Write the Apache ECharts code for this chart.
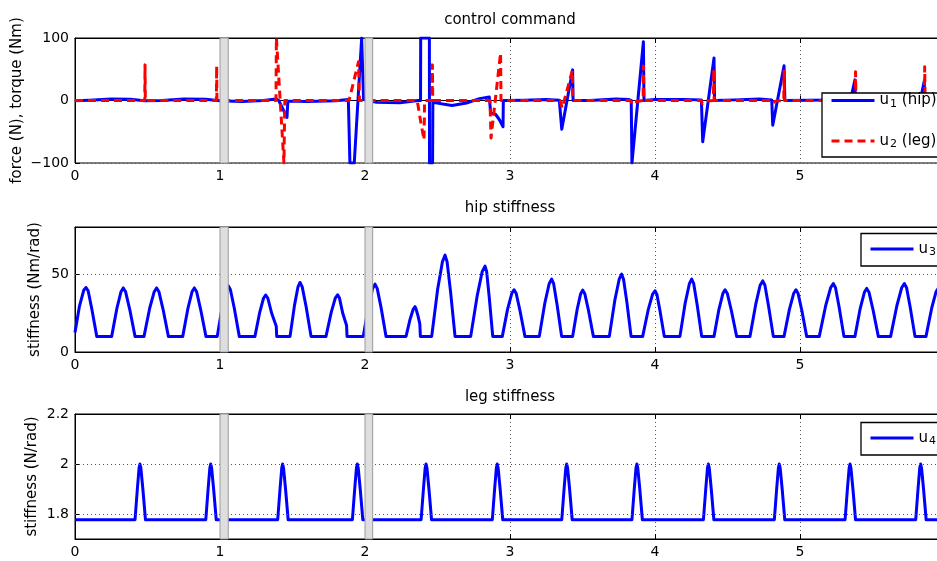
<!DOCTYPE html>
<html>
<head>
<meta charset="utf-8">
<script src="https://cdn.jsdelivr.net/npm/echarts@6/dist/echarts.min.js"></script>
<style>
  html, body { margin: 0; padding: 0; background: #fff; }
  #chart { width: 937px; height: 561px; }
</style>
</head>
<body>
<div id="chart"></div>
<script>
// ---- time axis ----
const timeMin = 0;
const timeMax = 6;
const timeStep = 1;

// shaded intervals (start / end, seconds)
const bandStart = [1.0, 2.0];
const bandEnd = [1.057, 2.053];

// ---- u1: hip torque command [t, Nm], saturates at +/-100 ----
const u1Hip = [
  [0, -0.5], [0.10, 0.5], [0.25, 2.5], [0.38, 2.0], [0.48, -0.5], [0.60, 0.0], [0.75, 2.5], [0.90, 2.0],
  [1.00, -0.5], [1.15, -1.5], [1.30, 0.0], [1.385, 2.5], [1.405, 0], [1.43, -12], [1.462, -27], [1.466, -27],
  [1.468, -1], [1.60, -1.5], [1.80, -0.5], [1.885, 1.5], [1.893, 1.5], [1.896, -100], [1.926, -100],
  [1.977, 100], [1.986, 100], [1.990, 1.5], [2.00, 1.0], [2.08, -3.0], [2.24, -3.5], [2.366, 0], [2.383, 0],
  [2.384, 100], [2.444, 100], [2.445, -100], [2.466, -100], [2.468, -3], [2.60, -8], [2.70, -4], [2.79, 3],
  [2.857, 5.5], [2.865, 5], [2.867, -20], [2.90, -22], [2.925, -30], [2.952, -42], [2.954, 0], [3.10, 0.5],
  [3.25, 1.5], [3.340, 0.5], [3.357, -46], [3.432, 49], [3.435, 0], [3.55, 0], [3.73, 2.5], [3.82, 1.5],
  [3.836, 0], [3.841, -100], [3.851, -100], [3.920, 94], [3.924, 0], [4.00, 1.5], [4.20, 1.5], [4.320, 1],
  [4.329, -66], [4.407, 68], [4.411, 0], [4.55, 1.0], [4.72, 2.5], [4.805, 1], [4.812, -39.5], [4.890, 55.5],
  [4.896, 0], [5.05, 0.5], [5.25, 1], [5.30, 0], [5.305, -45], [5.379, 33], [5.382, 0], [5.55, 1], [5.70, 1.5],
  [5.79, 0], [5.795, -40], [5.857, 31], [5.860, 0], [6.0, 0.5]
];

// ---- u2: leg force command [t, N], saturates at +/-100 ----
const u2Leg = [
  [0, 0], [0.481, 0], [0.483, 57], [0.485, 0], [0.975, 0], [0.977, 55], [0.979, 0], [1.386, 0], [1.389, 100],
  [1.395, 100], [1.441, -100], [1.445, -100], [1.447, 0], [1.890, 0], [1.955, 62], [1.962, 0], [2.360, 0],
  [2.385, -35], [2.392, -38], [2.407, -63], [2.411, 0], [2.463, 0], [2.465, 57], [2.467, 0], [2.862, 0],
  [2.869, -60], [2.874, -60], [2.935, 76], [2.938, 0], [3.345, 0], [3.360, -12], [3.430, 48], [3.433, 0],
  [3.832, 0], [3.842, -6], [3.860, -2], [3.918, 0], [3.920, 55], [3.923, 0], [4.318, 0], [4.327, -5],
  [4.345, -1], [4.403, 0], [4.405, 50], [4.408, 0], [4.805, 0], [4.813, -4], [4.830, -1], [4.888, 0],
  [4.890, 47], [4.893, 0], [5.300, 0], [5.307, -4], [5.330, -1], [5.381, 0], [5.383, 46], [5.386, 0],
  [5.790, 0], [5.797, -4], [5.820, -1], [5.858, 0], [5.860, 54], [5.863, 0], [6.0, 0]
];

// ---- u3: hip stiffness [t, Nm/rad] ----
const u3HipStiff = [
  [0, 12.5], [0.03, 29], [0.06, 39.5], [0.076, 41.3], [0.091, 39], [0.117, 27], [0.15, 10],
  [0.253, 10], [0.289, 28], [0.317, 38.5], [0.333, 41], [0.349, 38.5], [0.378, 27], [0.414, 10],
  [0.476, 10], [0.515, 28], [0.546, 38.5], [0.563, 41], [0.579, 38.5], [0.608, 27], [0.644, 10],
  [0.743, 10], [0.779, 28], [0.807, 38.5], [0.823, 41], [0.839, 38.5], [0.867, 27], [0.903, 10],
  [0.981, 10], [1.015, 28.8], [1.042, 39.8], [1.057, 42.4], [1.072, 39.8], [1.099, 27.8], [1.133, 10],
  [1.241, 10], [1.274, 25.4], [1.300, 34.4], [1.315, 36.5], [1.330, 34.4], [1.357, 24.6], [1.388, 16.5], [1.391, 10],
  [1.483, 10], [1.514, 30], [1.538, 41.7], [1.552, 44.5], [1.567, 41.7], [1.594, 29], [1.628, 10],
  [1.731, 10], [1.767, 25.4], [1.795, 34.5], [1.811, 36.6], [1.824, 34.5], [1.847, 24.6], [1.873, 17], [1.876, 10],
  [1.988, 10], [2.024, 29.4], [2.053, 40.7], [2.069, 43.4], [2.084, 40.7], [2.111, 28.4], [2.145, 10],
  [2.283, 10], [2.311, 21], [2.333, 27.5], [2.345, 29], [2.352, 27.5], [2.366, 23], [2.378, 18], [2.382, 10],
  [2.460, 10], [2.501, 40.2], [2.534, 57.8], [2.552, 62], [2.566, 57.8], [2.590, 38.6], [2.621, 10],
  [2.729, 10], [2.774, 36.1], [2.808, 51.4], [2.828, 55], [2.839, 51.4], [2.857, 34.8], [2.881, 10],
  [2.947, 10], [2.983, 27.3], [3.012, 37.4], [3.028, 39.8], [3.043, 37.4], [3.069, 26.4], [3.103, 10],
  [3.202, 10], [3.240, 31.2], [3.270, 43.7], [3.287, 46.6], [3.301, 43.7], [3.325, 30.1], [3.356, 10],
  [3.432, 10], [3.463, 27.2], [3.487, 37.2], [3.501, 39.6], [3.516, 37.2], [3.542, 26.3], [3.575, 10],
  [3.685, 10], [3.723, 33.1], [3.753, 46.6], [3.770, 49.8], [3.783, 46.6], [3.806, 31.9], [3.835, 10],
  [3.915, 10], [3.953, 26.9], [3.983, 36.9], [4.000, 39.2], [4.013, 36.9], [4.035, 26.1], [4.064, 10],
  [4.172, 10], [4.208, 31.2], [4.237, 43.7], [4.253, 46.6], [4.267, 43.7], [4.291, 30.1], [4.322, 10],
  [4.407, 10], [4.441, 27.3], [4.468, 37.4], [4.483, 39.8], [4.499, 37.4], [4.527, 26.4], [4.563, 10],
  [4.655, 10], [4.695, 30.6], [4.725, 42.7], [4.743, 45.5], [4.758, 42.7], [4.783, 29.5], [4.816, 10],
  [4.890, 10], [4.927, 27.3], [4.956, 37.4], [4.972, 39.8], [4.987, 37.4], [5.013, 26.4], [5.046, 10],
  [5.133, 10], [5.177, 29.6], [5.211, 41.1], [5.230, 43.8], [5.245, 41.1], [5.270, 28.6], [5.303, 10],
  [5.379, 10], [5.415, 27.8], [5.444, 38.2], [5.460, 40.7], [5.476, 38.2], [5.504, 26.9], [5.540, 10],
  [5.625, 10], [5.668, 29.6], [5.701, 41.1], [5.720, 43.8], [5.735, 41.1], [5.760, 28.6], [5.793, 10],
  [5.869, 10], [5.908, 28], [5.938, 38.5], [5.955, 41], [5.970, 38.5], [5.995, 27], [6.030, 10]
];

// ---- u4: leg stiffness [t, N/rad] ----
const u4LegStiff = [
  [0, 1.777],
  [0.414, 1.777], [0.430, 1.9], [0.442, 1.985], [0.448, 2], [0.454, 1.985], [0.468, 1.9], [0.486, 1.777],
  [0.902, 1.777], [0.918, 1.9], [0.930, 1.985], [0.936, 2], [0.942, 1.985], [0.956, 1.9], [0.974, 1.777],
  [1.398, 1.777], [1.414, 1.9], [1.426, 1.985], [1.432, 2], [1.438, 1.985], [1.452, 1.9], [1.470, 1.777],
  [1.913, 1.777], [1.929, 1.9], [1.941, 1.985], [1.947, 2], [1.953, 1.985], [1.967, 1.9], [1.985, 1.777],
  [2.387, 1.777], [2.403, 1.9], [2.415, 1.985], [2.421, 2], [2.427, 1.985], [2.441, 1.9], [2.459, 1.777],
  [2.878, 1.777], [2.894, 1.9], [2.906, 1.985], [2.912, 2], [2.918, 1.985], [2.932, 1.9], [2.950, 1.777],
  [3.357, 1.777], [3.373, 1.9], [3.385, 1.985], [3.391, 2], [3.397, 1.985], [3.411, 1.9], [3.429, 1.777],
  [3.841, 1.777], [3.857, 1.9], [3.869, 1.985], [3.875, 2], [3.881, 1.985], [3.895, 1.9], [3.913, 1.777],
  [4.334, 1.777], [4.350, 1.9], [4.362, 1.985], [4.368, 2], [4.374, 1.985], [4.388, 1.9], [4.406, 1.777],
  [4.823, 1.777], [4.839, 1.9], [4.851, 1.985], [4.857, 2], [4.863, 1.985], [4.877, 1.9], [4.895, 1.777],
  [5.311, 1.777], [5.327, 1.9], [5.339, 1.985], [5.345, 2], [5.351, 1.985], [5.365, 1.9], [5.383, 1.777],
  [5.798, 1.777], [5.814, 1.9], [5.826, 1.985], [5.832, 2], [5.838, 1.985], [5.852, 1.9], [5.870, 1.777],
  [6, 1.777]
];

// ---- axis ranges / ticks ----
const cmdRange = [-100, 100];
const cmdStep = 100;
const hipRange = [0, 80];
const hipTicks = [0, 50];
const legRange = [1.7, 2.2];
const legTicks = [1.8, 2, 2.2];
const legGridLines = [1.8, 2];

const FONT = 'DejaVu Sans';
const BLUE = '#0000ff';
const RED = '#ff0000';
const GRIDLINE = { color: '#555', type: [1, 3], width: 1 };

// the time axis runs to 6 s, slightly past the right edge of the page
const grids = [
  { left: 75, width: 870, top: 38, height: 125 },
  { left: 75, width: 870, top: 227, height: 125 },
  { left: 75, width: 870, top: 414, height: 125 }
];

function bottomAxis(i) {
  return {
    type: 'value', gridIndex: i, min: timeMin, max: timeMax, interval: timeStep,
    axisLine: { show: true, lineStyle: { color: '#000', width: 1 } },
    axisTick: { show: true, inside: true, length: 5, lineStyle: { color: '#000' } },
    axisLabel: { color: '#000', fontSize: 14, fontFamily: FONT, margin: 6, hideOverlap: false },
    splitLine: { show: true, lineStyle: GRIDLINE }
  };
}
function topAxis(i) {
  return {
    type: 'value', gridIndex: i, position: 'top', min: timeMin, max: timeMax, interval: timeStep,
    axisLine: { show: true, lineStyle: { color: '#000', width: 1 } },
    axisTick: { show: true, inside: true, length: 5, lineStyle: { color: '#000' } },
    axisLabel: { show: false },
    splitLine: { show: false }
  };
}
const yCommon = {
  type: 'value',
  nameLocation: 'middle',
  nameMoveOverlap: false,
  nameTextStyle: { color: '#000', fontSize: 15, fontFamily: FONT },
  axisLine: { show: true, lineStyle: { color: '#000', width: 1 } },
  axisTick: { show: true, inside: true, length: 5, lineStyle: { color: '#000' } },
  axisLabel: { color: '#000', fontSize: 14, fontFamily: FONT, margin: 6 }
};

function bandSeries(i) {
  return {
    type: 'custom', xAxisIndex: i, yAxisIndex: i, z: 5, silent: true,
    data: bandStart.map((s, k) => [s, bandEnd[k]]),
    encode: { x: [0, 1], y: 0 },
    renderItem(params, api) {
      const cs = params.coordSys;
      const x0 = api.coord([api.value(0), api.value(0)])[0];
      const x1 = api.coord([api.value(1), api.value(0)])[0];
      return {
        type: 'rect',
        shape: { x: x0, y: cs.y, width: x1 - x0, height: cs.height },
        style: { fill: '#dedede', stroke: '#9a9a9a', lineWidth: 1 }
      };
    }
  };
}

function lineSeries(name, data, i, color, type) {
  return {
    name, type: 'line', xAxisIndex: i, yAxisIndex: i, data,
    showSymbol: false, symbol: 'none', clip: true, z: 2,
    color,
    lineStyle: { color, width: 3, type: type || 'solid', join: 'round', cap: 'butt' },
    emphasis: { disabled: true }
  };
}

const legendRich = {
  m: { fontSize: 15, fontFamily: FONT, color: '#000', lineHeight: 18, verticalAlign: 'middle' },
  s: { fontSize: 11, fontFamily: FONT, color: '#000', lineHeight: 10, verticalAlign: 'bottom', padding: [0, 0, 0, 1] }
};
function legendLabel(name) {
  const m = name.match(/^u(\d)(.*)$/);
  return '{m|u}{s|' + m[1] + '}' + (m[2] ? '{m|' + m[2] + '}' : '');
}
function legendBox(names, left, top, padding, gap) {
  return {
    orient: 'vertical', left, top, data: names, padding, itemGap: gap,
    itemWidth: 43, itemHeight: 14, selectedMode: false,
    backgroundColor: '#fff', borderColor: '#000', borderWidth: 1.3, borderRadius: 0,
    itemStyle: { opacity: 0 },
    lineStyle: { width: 3, opacity: 1 },
    formatter: legendLabel,
    textStyle: { color: '#000', fontSize: 15, fontFamily: FONT, rich: legendRich }
  };
}

function title(text, y) {
  return {
    type: 'text', x: 510, y,
    style: { text, fill: '#000', font: '15px "' + FONT + '"', align: 'center', verticalAlign: 'middle',
             textAlign: 'center', textVerticalAlign: 'middle' }
  };
}

const chart = echarts.init(document.getElementById('chart'), null, { renderer: 'canvas' });
chart.setOption({
  animation: false,
  backgroundColor: '#fff',
  textStyle: { fontFamily: FONT },
  graphic: [
    title('control command', 20),
    title('hip stiffness', 208),
    title('leg stiffness', 397)
  ],
  grid: grids.map(g => Object.assign({ show: true, borderColor: '#000', borderWidth: 1,
                                       backgroundColor: 'transparent', containLabel: false,
                                       outerBoundsMode: 'none' }, g)),
  xAxis: [0, 1, 2].map(bottomAxis).concat([0, 1, 2].map(topAxis)),
  yAxis: [
    Object.assign({}, yCommon, {
      gridIndex: 0, min: cmdRange[0], max: cmdRange[1], interval: cmdStep,
      name: 'force (N), torque (Nm)', nameGap: 50,
      axisLabel: Object.assign({}, yCommon.axisLabel, {
        formatter: v => (v < 0 ? '\u2212' + Math.abs(v) : String(v))
      }),
      splitLine: { show: true, lineStyle: GRIDLINE }
    }),
    Object.assign({}, yCommon, {
      gridIndex: 1, min: hipRange[0], max: hipRange[1], interval: 10,
      name: 'stiffness (Nm/rad)', nameGap: 32,
      axisTick: Object.assign({}, yCommon.axisTick, { customValues: hipTicks }),
      axisLabel: Object.assign({}, yCommon.axisLabel, { customValues: hipTicks }),
      splitLine: { show: false }
    }),
    Object.assign({}, yCommon, {
      gridIndex: 2, min: legRange[0], max: legRange[1], interval: 0.1,
      name: 'stiffness (N/rad)', nameGap: 35,
      axisTick: Object.assign({}, yCommon.axisTick, { customValues: legTicks }),
      axisLabel: Object.assign({}, yCommon.axisLabel, { customValues: legTicks }),
      splitLine: { show: false }
    })
  ],
  legend: [
    legendBox(['u1 (hip)', 'u2 (leg)'], 822, 93, [0, 40, 7, 8], 24),
    legendBox(['u3'], 861, 233.5, [8, 60, 8, 8], 10),
    legendBox(['u4'], 861, 422.5, [8, 60, 8, 8], 10)
  ],
  series: [
    lineSeries('u1 (hip)', u1Hip, 0, BLUE),
    lineSeries('u2 (leg)', u2Leg, 0, RED, [8, 5]),
    Object.assign(lineSeries('u3', u3HipStiff, 1, BLUE), {
      markLine: {
        silent: true, symbol: 'none', animation: false, label: { show: false },
        lineStyle: GRIDLINE, emphasis: { disabled: true },
        data: hipTicks.filter(v => v > hipRange[0]).map(v => ({ yAxis: v }))
      }
    }),
    Object.assign(lineSeries('u4', u4LegStiff, 2, BLUE), {
      markLine: {
        silent: true, symbol: 'none', animation: false, label: { show: false },
        lineStyle: GRIDLINE, emphasis: { disabled: true },
        data: legGridLines.map(v => ({ yAxis: v }))
      }
    }),
    bandSeries(0), bandSeries(1), bandSeries(2)
  ]
});
</script>
</body>
</html>
